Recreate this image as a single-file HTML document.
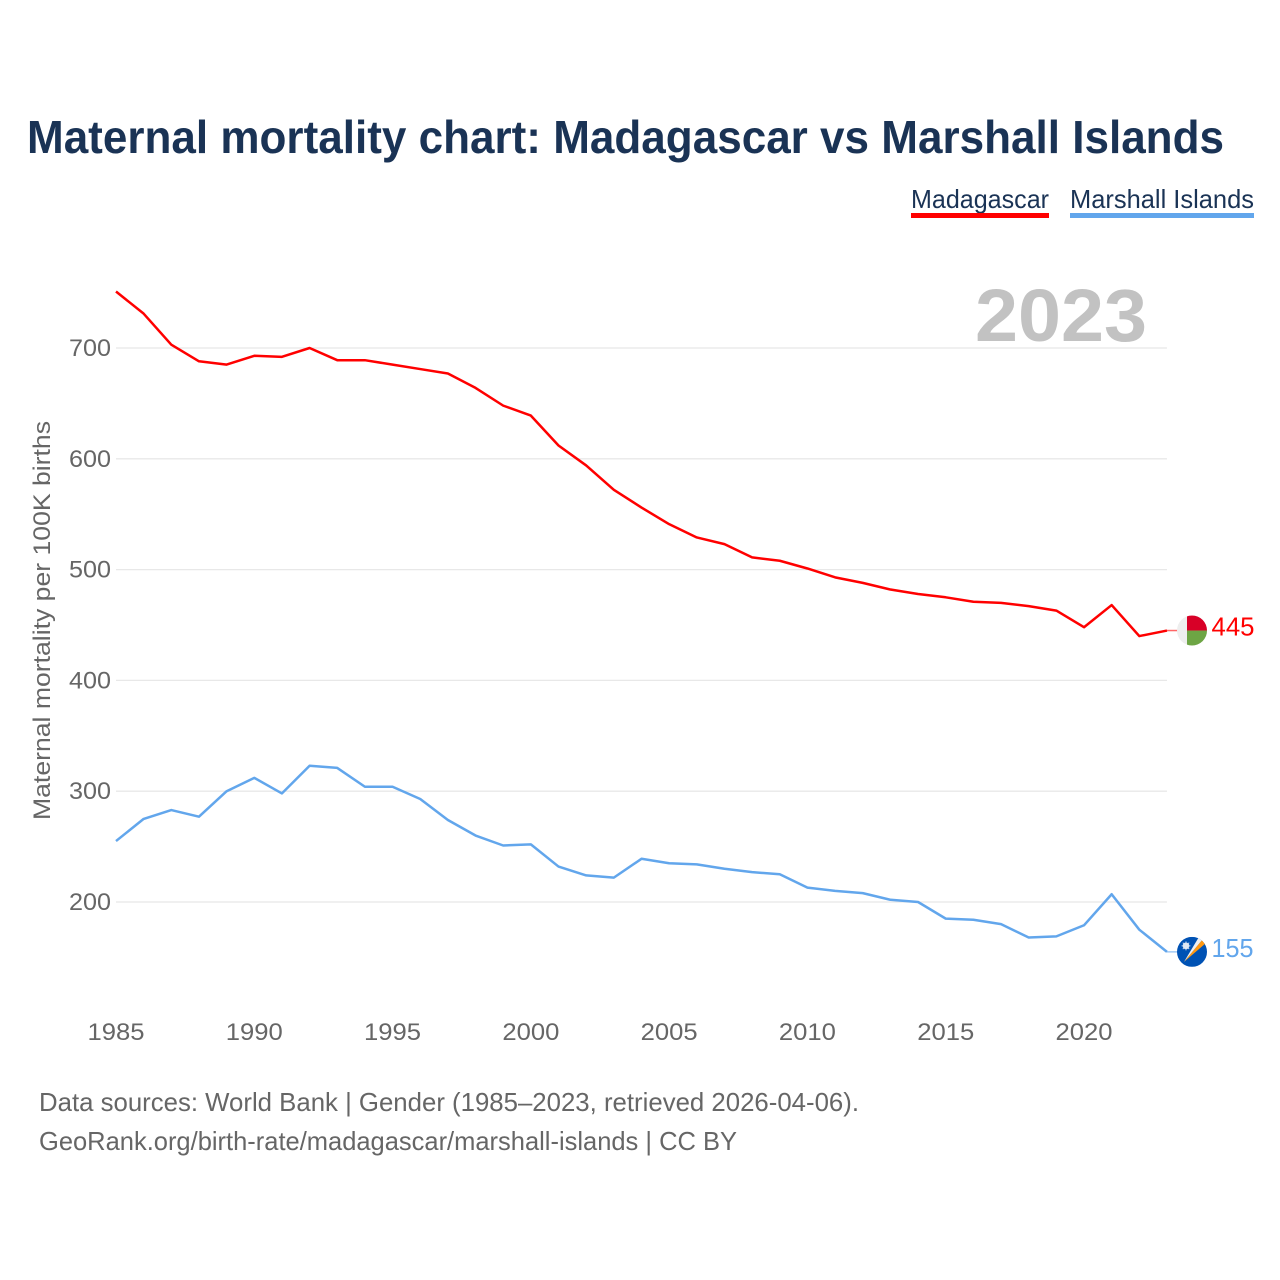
<!DOCTYPE html>
<html lang="en">
<head>
<meta charset="utf-8">
<title>Maternal mortality chart: Madagascar vs Marshall Islands</title>
<style>
html,body{margin:0;padding:0;background:#fff;}
svg{display:block;font-family:"Liberation Sans",sans-serif;}
</style>
</head>
<body>
<svg id="chart" xmlns="http://www.w3.org/2000/svg" width="1280" height="1280" viewBox="0 0 1280 1280">
  <rect width="1280" height="1280" fill="#ffffff"/>
  <text x="27" y="153" font-size="46" font-weight="700" fill="#1a3355" textLength="1197" lengthAdjust="spacingAndGlyphs">Maternal mortality chart: Madagascar vs Marshall Islands</text>

  <g>
    <text x="911" y="208" font-size="26" fill="#1a3355" textLength="138" lengthAdjust="spacingAndGlyphs">Madagascar</text>
    <rect x="911" y="213" width="138" height="5" fill="#ff0000"/>
  </g>
  <g>
    <text x="1070" y="208" font-size="26" fill="#1a3355" textLength="184" lengthAdjust="spacingAndGlyphs">Marshall Islands</text>
    <rect x="1070" y="213" width="184" height="5" fill="#62a6ec"/>
  </g>

  <g id="grid"></g>
  <text x="975" y="341" font-size="74" font-weight="700" fill="#c2c2c2" textLength="172" lengthAdjust="spacingAndGlyphs">2023</text>
  <g id="yticks"></g>
  <g id="xticks"></g>
  <text transform="translate(50,620.5) rotate(-90)" text-anchor="middle" font-size="24" fill="#666666" textLength="399" lengthAdjust="spacingAndGlyphs">Maternal mortality per 100K births</text>
  <g id="series"></g>

  <defs>
    <clipPath id="clip-mg"><circle cx="0" cy="0" r="15"/></clipPath>
    <clipPath id="clip-mh"><circle cx="0" cy="0" r="15"/></clipPath>
  </defs>
  <g id="flag-mg">
    <g clip-path="url(#clip-mg)">
      <rect x="-15" y="-15" width="30" height="30" fill="#eeeeee"/>
      <rect x="-5" y="-15" width="20" height="15" fill="#d80027"/>
      <rect x="-5" y="0" width="20" height="15" fill="#6da544"/>
    </g>
  </g>
  <g id="flag-mh">
    <g clip-path="url(#clip-mh)">
      <rect x="-15" y="-15" width="30" height="30" fill="#0052b4"/>
      <polygon points="-8,10 11,-13 13,-8" fill="#ff9811"/>
      <polygon points="-8,10 7,-15 11,-13" fill="#f0f0f0"/>
      <circle cx="-6" cy="-6" r="3.4" fill="#dfe8f4"/>
      <path d="M-6,-10.5V-1.5M-10.5,-6H-1.5M-9.2,-9.2L-2.8,-2.8M-9.2,-2.8L-2.8,-9.2" stroke="#dfe8f4" stroke-width="0.8"/>
    </g>
  </g>
  <text id="value-mg" font-size="26" fill="#ff0000" textLength="43" lengthAdjust="spacingAndGlyphs"></text>
  <text id="value-mh" font-size="26" fill="#62a6ec" textLength="42" lengthAdjust="spacingAndGlyphs"></text>

  <text x="39" y="1111" font-size="26" fill="#666666" textLength="820" lengthAdjust="spacingAndGlyphs">Data sources: World Bank | Gender (1985–2023, retrieved 2026-04-06).</text>
  <text x="39" y="1150" font-size="26" fill="#666666" textLength="698" lengthAdjust="spacingAndGlyphs">GeoRank.org/birth-rate/madagascar/marshall-islands | CC BY</text>
</svg>
<script>
const years = [1985,1986,1987,1988,1989,1990,1991,1992,1993,1994,1995,1996,1997,1998,1999,2000,2001,2002,2003,2004,2005,2006,2007,2008,2009,2010,2011,2012,2013,2014,2015,2016,2017,2018,2019,2020,2021,2022,2023];
const madagascar = [751,731,703,688,685,693,692,700,689,689,685,681,677,664,648,639,612,594,572,556,541,529,523,511,508,501,493,488,482,478,475,471,470,467,463,448,468,440,445];
const marshallIslands = [255,275,283,277,300,312,298,323,321,304,304,293,274,260,251,252,232,224,222,239,235,234,230,227,225,213,210,208,202,200,185,184,180,168,169,179,207,175,155];
const xTicks = [1985,1990,1995,2000,2005,2010,2015,2020];
const yTicks = [200,300,400,500,600,700];

const NS = 'http://www.w3.org/2000/svg';
function xScale(year){ return 116 + (year - 1985) * (968 / 35); }
function yScale(value){ return 902 - (value - 200) * (554 / 500); }
function make(tag, parent){
  const el = document.createElementNS(NS, tag);
  parent.appendChild(el);
  return el;
}

const grid = document.getElementById('grid');
const yGroup = document.getElementById('yticks');
const xGroup = document.getElementById('xticks');
const seriesGroup = document.getElementById('series');
const endX = xScale(years[years.length - 1]);

yTicks.forEach(function(t){
  const line = make('line', grid);
  
  
  line.setAttribute('x1', 116);
  line.setAttribute('x2', endX);
  line.setAttribute('y1', yScale(t));
  line.setAttribute('y2', yScale(t));
  line.setAttribute('stroke', '#e8e8e8');
  line.setAttribute('stroke-width', '1.3');
  const label = make('text', yGroup);
  
  
  label.setAttribute('x', 111);
  label.setAttribute('y', yScale(t) + 8);
  label.setAttribute('text-anchor', 'end');
  label.setAttribute('font-size', '24');
  label.setAttribute('fill', '#666666');
  label.setAttribute('textLength', '42');
  label.setAttribute('lengthAdjust', 'spacingAndGlyphs');
  label.textContent = t;
});

xTicks.forEach(function(t){
  const label = make('text', xGroup);
  
  
  label.setAttribute('x', xScale(t));
  label.setAttribute('y', 1040);
  label.setAttribute('text-anchor', 'middle');
  label.setAttribute('font-size', '24');
  label.setAttribute('fill', '#666666');
  label.setAttribute('textLength', '57');
  label.setAttribute('lengthAdjust', 'spacingAndGlyphs');
  label.textContent = t;
});

function drawSeries(values, color, key, flagId, valueId){
  const pts = values.map(function(v, i){ return xScale(years[i]).toFixed(2) + ',' + yScale(v).toFixed(2); }).join(' ');
  const line = make('polyline', seriesGroup);
  
  
  line.setAttribute('points', pts);
  line.setAttribute('fill', 'none');
  line.setAttribute('stroke', color);
  line.setAttribute('stroke-width', '2.5');
  line.setAttribute('stroke-linejoin', 'round');
  const last = values[values.length - 1];
  const ly = yScale(last);
  const stub = make('line', seriesGroup);
  
  
  stub.setAttribute('x1', endX);
  stub.setAttribute('x2', 1178);
  stub.setAttribute('y1', ly);
  stub.setAttribute('y2', ly);
  stub.setAttribute('stroke', color);
  stub.setAttribute('stroke-opacity', '0.6');
  stub.setAttribute('stroke-width', '1.5');
  document.getElementById(flagId).setAttribute('transform', 'translate(1192,' + ly + ')');
  const val = document.getElementById(valueId);
  val.setAttribute('x', 1211.5);
  val.setAttribute('y', ly + 5);
  val.textContent = last;
}

drawSeries(madagascar, '#ff0000', 'madagascar', 'flag-mg', 'value-mg');
drawSeries(marshallIslands, '#62a6ec', 'marshall-islands', 'flag-mh', 'value-mh');
</script>
</body>
</html>
